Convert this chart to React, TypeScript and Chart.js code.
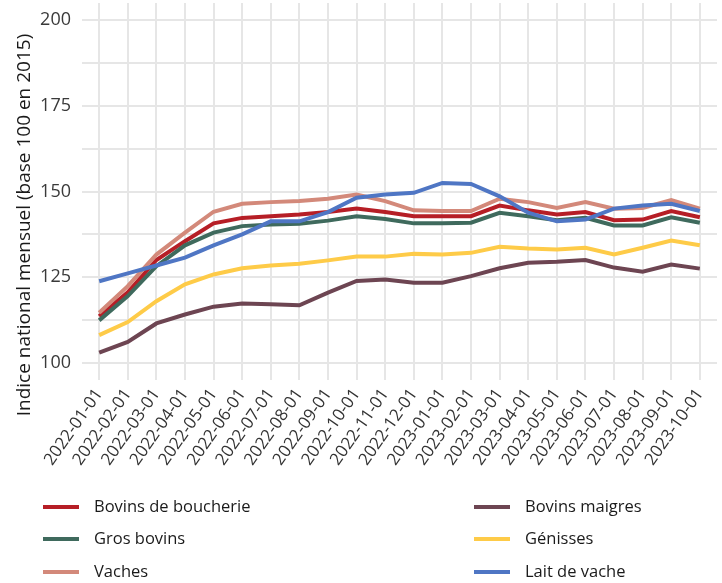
import React, { useEffect, useRef } from "react";
import { Chart, registerables } from "chart.js";

Chart.register(...registerables);

const months = [
  "2022-01-01", "2022-02-01", "2022-03-01", "2022-04-01", "2022-05-01", "2022-06-01",
  "2022-07-01", "2022-08-01", "2022-09-01", "2022-10-01", "2022-11-01", "2022-12-01",
  "2023-01-01", "2023-02-01", "2023-03-01", "2023-04-01", "2023-05-01", "2023-06-01",
  "2023-07-01", "2023-08-01", "2023-09-01", "2023-10-01",
];

const bovinsBoucherie = [113.6, 120.6, 130.0, 135.5, 140.7, 142.3, 142.8, 143.3, 144.0, 145.0, 144.0, 142.8, 142.8, 142.8, 145.9, 144.5, 143.3, 144.0, 141.6, 141.8, 144.3, 142.5];
const grosBovins = [112.4, 119.5, 128.2, 134.3, 138.0, 139.9, 140.4, 140.6, 141.5, 142.8, 142.0, 140.7, 140.7, 140.9, 143.8, 142.8, 141.6, 142.3, 140.1, 140.1, 142.5, 140.9];
const vaches = [114.6, 122.4, 131.6, 138.0, 144.1, 146.4, 146.9, 147.2, 147.9, 149.1, 147.2, 144.5, 144.3, 144.3, 147.9, 146.9, 145.2, 146.9, 145.0, 145.2, 147.5, 145.0];
const bovinsMaigres = [103.0, 106.1, 111.5, 114.1, 116.4, 117.3, 117.1, 116.8, 120.5, 123.9, 124.3, 123.4, 123.4, 125.3, 127.6, 129.2, 129.5, 130.0, 127.8, 126.6, 128.7, 127.5];
const genisses = [108.1, 111.9, 118.0, 122.9, 125.8, 127.6, 128.4, 128.9, 129.9, 131.0, 131.0, 131.8, 131.6, 132.1, 133.9, 133.4, 133.1, 133.6, 131.6, 133.6, 135.7, 134.3];
const laitDeVache = [123.8, 126.1, 128.4, 130.7, 134.3, 137.5, 141.3, 141.3, 144.0, 148.2, 149.1, 149.6, 152.5, 152.2, 148.6, 143.8, 141.3, 141.8, 145.0, 145.9, 146.4, 144.3];

const seriesNames = ["Bovins de boucherie", "Gros bovins", "Vaches", "Bovins maigres", "Génisses", "Lait de vache"];
const seriesValues = [bovinsBoucherie, grosBovins, vaches, bovinsMaigres, genisses, laitDeVache];
const seriesColors = ["#B61E26", "#3F6A5D", "#D3897A", "#6D4552", "#FECB48", "#4F76C4"];

const yTicks = [100, 112.5, 125, 137.5, 150, 162.5, 175, 187.5, 200];
const yTitle = "Indice national mensuel (base 100 en 2015)";

const FONT = "'Open Sans', 'DejaVu Sans', sans-serif";

const legendPlugin = {
  id: "gridLegend",
  afterDraw(chart: any) {
    const ctx = chart.ctx;
    ctx.save();
    ctx.font = `16.5px ${FONT}`;
    ctx.fillStyle = "#1A1A1A";
    ctx.textBaseline = "middle";
    ctx.textAlign = "left";
    const colX = [43, 474];
    const rowY = [507, 539, 572];
    seriesNames.forEach((name, i) => {
      const col = Math.floor(i / 3);
      const row = i % 3;
      const x = colX[col];
      const y = rowY[row];
      ctx.strokeStyle = seriesColors[i];
      ctx.lineWidth = 4;
      ctx.beginPath();
      ctx.moveTo(x, y);
      ctx.lineTo(x + 36, y);
      ctx.stroke();
      ctx.fillText(name, x + 51, y);
    });
    ctx.save();
    ctx.translate(25, 225);
    ctx.rotate(-Math.PI / 2);
    ctx.textAlign = "center";
    ctx.textBaseline = "middle";
    ctx.font = `19px ${FONT}`;
    ctx.fillStyle = "#1A1A1A";
    ctx.fillText(yTitle, 0, 0);
    ctx.restore();
    ctx.restore();
  },
};

export default function App() {
  const ref = useRef<HTMLCanvasElement | null>(null);
  useEffect(() => {
    if (!ref.current) return;
    const datasets = seriesNames.map((name, i) => ({
      label: name,
      data: months.map((_, j) => ({ x: j, y: seriesValues[i][j] })),
      borderColor: seriesColors[i],
      backgroundColor: seriesColors[i],
      borderWidth: 4,
      pointRadius: 0,
      tension: 0,
      fill: false,
      order: seriesNames.length - i,
    }));
    const chart = new Chart(ref.current, {
      type: "line",
      data: { datasets },
      plugins: [legendPlugin],
      options: {
        animation: false,
        responsive: true,
        maintainAspectRatio: false,
        layout: { padding: { left: 0, right: 5, top: 3, bottom: 0 } },
        plugins: { legend: { display: false }, tooltip: { enabled: false } },
        scales: {
          x: {
            type: "linear",
            min: -0.6,
            max: 21.6,
            afterBuildTicks: (scale: any) => {
              scale.ticks = months.map((_, i) => ({ value: i }));
            },
            afterFit: (scale: any) => {
              scale.height = 203;
              scale.paddingLeft = 0;
              scale.paddingRight = 0;
            },
            ticks: {
              autoSkip: false,
              minRotation: 55,
              maxRotation: 55,
              padding: 5,
              color: "#333333",
              font: { family: FONT, size: 17 },
              callback: (v: any) => months[Math.round(Number(v))] ?? "",
            },
            grid: { color: "#E6E6E6", lineWidth: 2, drawTicks: false },
            border: { display: false },
          },
          y: {
            type: "linear",
            min: 95,
            max: 205,
            afterBuildTicks: (scale: any) => {
              scale.ticks = yTicks.map((v) => ({ value: v }));
            },
            afterFit: (scale: any) => {
              scale.width = 82;
              scale.paddingTop = 0;
              scale.paddingBottom = 0;
            },
            ticks: {
              padding: 11,
              color: "#3A3A3A",
              font: { family: FONT, size: 18 },
              callback: (v: any) => (Number(v) % 25 === 0 ? String(v) : ""),
            },
            grid: { color: "#E6E6E6", lineWidth: 2, drawTicks: false },
            border: { display: false },
          },
        },
      },
    });
    return () => chart.destroy();
  }, []);
  return (
    <div style={{ position: "absolute", left: 0, top: 0, width: 722, height: 583 }}>
      <canvas ref={ref} style={{ display: "block" }} />
    </div>
  );
}
